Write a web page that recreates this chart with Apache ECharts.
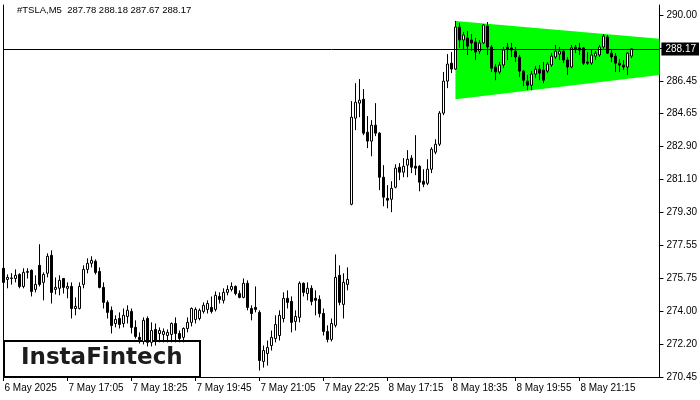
<!DOCTYPE html>
<html><head><meta charset="utf-8">
<script src="https://cdn.jsdelivr.net/npm/echarts@6/dist/echarts.min.js"></script>
<style>html,body{margin:0;padding:0;background:#fff}#c{width:700px;height:400px}</style>
</head><body><div id="c"></div>
<script>
const symbolName = '#TSLA,M5';
const opens = [276.32,275.72,275.77,275.77,275.99,275.34,276.10,276.21,275.18,276.48,275.56,276.05,277.02,275.18,275.24,275.77,275.24,275.34,274.15,274.15,275.45,276.26,276.59,276.70,276.15,275.29,274.48,274.05,273.34,273.61,273.34,273.72,273.99,273.13,272.59,272.37,273.61,272.32,273.02,272.80,272.75,272.69,272.75,273.34,272.80,272.59,273.07,273.40,273.56,273.61,273.99,274.10,274.21,274.10,274.80,274.59,275.02,275.18,275.34,274.96,274.75,275.51,274.15,274.21,273.94,271.29,271.72,272.15,272.53,272.69,273.61,274.70,274.53,273.45,273.67,275.51,274.96,275.24,274.70,274.64,273.88,272.91,272.48,273.24,275.94,274.37,275.45,279.78,284.43,285.24,285.45,283.67,283.19,284.05,283.62,281.24,280.10,280.05,280.70,281.78,281.51,281.89,282.27,281.83,281.83,281.02,280.91,281.67,282.59,283.02,284.70,286.43,287.40,287.08,289.35,288.65,288.76,288.65,288.54,288.05,288.49,289.40,288.27,287.19,286.92,287.30,288.27,288.22,288.05,287.73,286.97,286.43,286.21,286.81,287.08,287.03,286.97,287.30,287.73,287.89,288.05,287.57,287.19,288.27,288.22,288.22,287.46,287.40,287.78,287.84,288.27,288.81,287.94,287.78,287.40,287.30,287.19,287.78];
const highs = [276.43,275.99,276.06,276.26,276.05,276.32,276.32,276.26,275.94,277.62,276.10,277.13,277.29,275.83,275.94,275.80,275.56,275.56,274.75,275.56,276.48,276.86,276.97,276.80,276.37,275.56,274.59,274.26,273.78,273.94,274.15,274.32,274.15,273.51,272.86,273.67,273.72,273.40,273.34,273.13,273.07,273.02,273.40,273.67,272.96,273.13,273.67,274.21,274.21,274.15,274.48,274.59,274.80,275.07,275.02,275.24,275.40,275.56,275.40,275.13,275.77,275.67,274.32,275.34,274.05,272.15,272.42,272.96,273.78,274.05,275.02,275.13,274.80,274.05,275.61,275.56,275.56,275.40,275.13,274.86,274.15,273.24,273.61,277.07,276.48,276.05,276.37,285.35,286.32,286.54,286.00,284.54,284.32,285.24,283.67,281.89,280.81,281.02,281.94,282.00,282.27,282.70,282.43,283.51,281.89,281.67,282.21,282.86,283.29,284.81,286.92,287.89,288.00,289.68,289.57,289.08,289.13,288.97,288.76,288.65,289.51,289.62,288.38,287.35,287.46,288.27,288.49,288.49,288.27,287.84,287.03,286.76,286.97,287.24,287.30,287.46,287.46,287.94,288.38,288.27,288.11,287.73,288.38,288.38,288.49,288.27,287.99,288.11,288.05,288.38,288.97,288.92,288.11,287.94,287.62,287.57,287.99,288.18];
const lows = [275.45,275.24,275.44,275.56,275.24,275.24,275.77,274.80,275.02,275.34,274.59,275.83,274.42,274.91,274.86,274.96,274.70,273.61,273.78,274.10,275.24,276.05,276.37,275.99,275.24,274.15,273.61,272.80,273.13,273.07,273.13,273.34,272.80,272.53,272.26,272.21,272.10,272.10,272.15,272.32,272.32,272.32,272.32,272.32,272.32,272.32,272.86,273.18,273.34,273.51,273.88,273.88,273.88,273.99,274.42,274.42,274.86,275.07,274.86,274.70,274.70,274.05,273.51,273.94,270.80,270.96,271.07,271.88,272.32,272.42,273.40,274.15,272.86,272.96,273.40,274.80,274.59,274.32,273.78,273.67,272.69,272.32,272.37,273.13,274.32,273.61,275.13,279.72,283.78,284.48,283.51,282.81,282.37,283.46,280.54,279.67,279.56,279.35,280.64,281.08,281.24,281.24,281.46,281.35,280.48,280.70,280.81,281.46,282.48,282.92,284.59,286.05,286.86,287.03,288.22,288.11,287.84,288.05,287.57,287.89,288.43,287.84,286.92,286.48,286.81,287.13,287.57,287.73,287.46,286.65,286.16,285.94,285.94,286.59,286.48,286.32,286.86,287.19,287.62,287.57,287.40,286.76,287.13,287.94,287.84,287.30,287.30,287.30,287.57,287.73,288.11,287.89,287.46,286.92,286.92,287.03,286.76,287.67];
const closes = [275.56,275.83,275.80,275.94,275.34,276.10,276.15,275.07,275.45,275.45,275.99,276.97,275.02,275.29,275.67,275.29,275.34,274.15,274.26,275.34,276.26,276.59,276.75,276.10,275.29,274.48,273.94,273.23,273.56,273.29,273.78,274.05,273.13,272.64,272.48,273.51,272.32,272.96,272.37,272.96,272.91,272.86,273.34,272.80,272.53,273.07,273.40,274.15,274.10,274.05,274.32,274.42,273.99,274.86,274.64,275.02,275.18,275.34,274.96,274.75,275.51,274.21,273.88,274.10,271.34,271.88,272.04,272.59,273.29,273.78,274.70,274.48,273.40,273.72,275.51,275.02,275.24,274.53,274.59,273.88,272.91,272.48,273.34,275.83,274.48,275.56,275.72,284.48,285.29,285.40,283.62,283.19,284.05,283.62,281.24,280.16,280.00,280.64,281.73,281.51,281.83,282.21,281.78,281.73,280.97,280.86,281.67,282.75,283.02,284.70,286.43,287.35,287.08,289.35,288.65,288.92,288.32,288.49,288.00,288.49,289.46,288.27,287.13,286.92,287.30,288.11,288.16,288.11,287.73,286.97,286.48,286.21,286.81,287.08,286.86,286.48,287.35,287.78,288.05,288.05,287.57,287.19,288.22,288.16,288.11,287.40,287.40,287.84,287.94,288.27,288.86,287.94,287.73,287.40,287.30,287.19,287.94,288.17];
const priceTickLabels = ['270.45','272.20','274.00','275.75','277.55','279.30','281.10','282.90','284.65','286.45','','290.00'];
const sessions = [['6 May','22:15',9],['7 May','16:30',78],['8 May','16:30',78]];
const firstLabel = '6 May 2025';
const labelEvery = 16;
const trianglePoints = [[113,289.68],[164,288.72],[164,286.76],[113,285.45]];
const yMin = 270.45, yMax = 290.54;
const tickStep = (290.00 - 270.45) / 11;

const categories = [];
sessions.forEach(([day, start, n]) => {
  let [h, m] = start.split(':').map(Number);
  for (let i = 0; i < n; i++) {
    categories.push(day + ' ' + String(h).padStart(2,'0') + ':' + String(m).padStart(2,'0'));
    m += 5; if (m >= 60) { m -= 60; h++; }
  }
});
const ohlc = opens.map((o, i) => [o, closes[i], lows[i], highs[i]]);
const last = opens.length - 1;
const lastClose = closes[last].toFixed(2);
const titleText = symbolName + '  ' + [opens[last], highs[last], lows[last], closes[last]].map(v => v.toFixed(2)).join(' ');
const showIdx = (idx) => idx % labelEvery === 0 && idx < opens.length;
const FONT = 'Liberation Sans';

const chart = echarts.init(document.getElementById('c'), null, {renderer: 'canvas'});
chart.setOption({
  animation: false,
  backgroundColor: '#fff',
  grid: {left: 3.5, right: 40.5, top: 5, bottom: 23},
  xAxis: {
    type: 'category', data: categories, boundaryGap: false,
    axisLine: {show: true, lineStyle: {color: '#000', width: 1}},
    axisTick: {show: true, interval: showIdx, length: 4, lineStyle: {color: '#000'}},
    axisLabel: {interval: showIdx, align: 'left', margin: 6, padding: [0,0,0,1],
      fontFamily: FONT, fontSize: 10, color: '#000',
      formatter: (v, idx) => idx === 0 ? firstLabel : v},
    splitLine: {show: false}
  },
  yAxis: [
    {type: 'value', min: yMin, max: yMax, position: 'left', scale: true,
     axisLine: {show: true, lineStyle: {color: '#000'}}, axisTick: {show: false},
     axisLabel: {show: false}, splitLine: {show: false}},
    {type: 'value', min: 0, max: (yMax - yMin) / tickStep, interval: 1, position: 'right',
     axisLine: {show: true, lineStyle: {color: '#000'}},
     axisTick: {show: true, length: 4, lineStyle: {color: '#000'}},
     axisLabel: {margin: 7, fontFamily: FONT, fontSize: 10, color: '#000', showMaxLabel: false,
       formatter: v => (Math.abs(v - Math.round(v)) < 1e-6 && priceTickLabels[Math.round(v)]) || ''},
     splitLine: {show: false}}
  ],
  series: [
    {type: 'custom', xAxisIndex: 0, yAxisIndex: 0, z: 1, silent: true, data: [0],
     renderItem: (params, api) => ({type: 'polygon',
       shape: {points: trianglePoints.map(p => api.coord(p))},
       style: {fill: '#00ff00', stroke: null}})},
    {type: 'candlestick', xAxisIndex: 0, yAxisIndex: 0, z: 3, data: ohlc, barWidth: 2,
     itemStyle: {color: '#ffffff', color0: '#000000', borderColor: '#000000', borderColor0: '#000000', borderWidth: 1},
     markLine: {silent: true, symbol: ['none','none'], animation: false,
       lineStyle: {color: '#000', width: 1, type: 'solid'},
       label: {show: true, position: 'end', distance: 2, formatter: lastClose, color: '#fff',
         backgroundColor: '#000', padding: [2,3,1,4], fontFamily: FONT, fontSize: 10},
       data: [{yAxis: closes[last]}]}}
  ],
  graphic: [
    {type: 'text', left: 17, top: 5, z: 10, style: {text: titleText, fontFamily: FONT, fontSize: 9.5, fill: '#000'}},
    {type: 'group', z: 100, children: [
      {type: 'rect', shape: {x: 4, y: 341, width: 196, height: 36}, style: {fill: '#fff', stroke: '#000', lineWidth: 2}},
      {type: 'text', x: 21, y: 358, style: {text: 'InstaFintech', fontFamily: 'DejaVu Sans', fontWeight: 'bold', fontSize: 23, fill: '#1c1c1c', verticalAlign: 'middle', textVerticalAlign: 'middle'}}
    ]}
  ]
});
</script></body></html>
